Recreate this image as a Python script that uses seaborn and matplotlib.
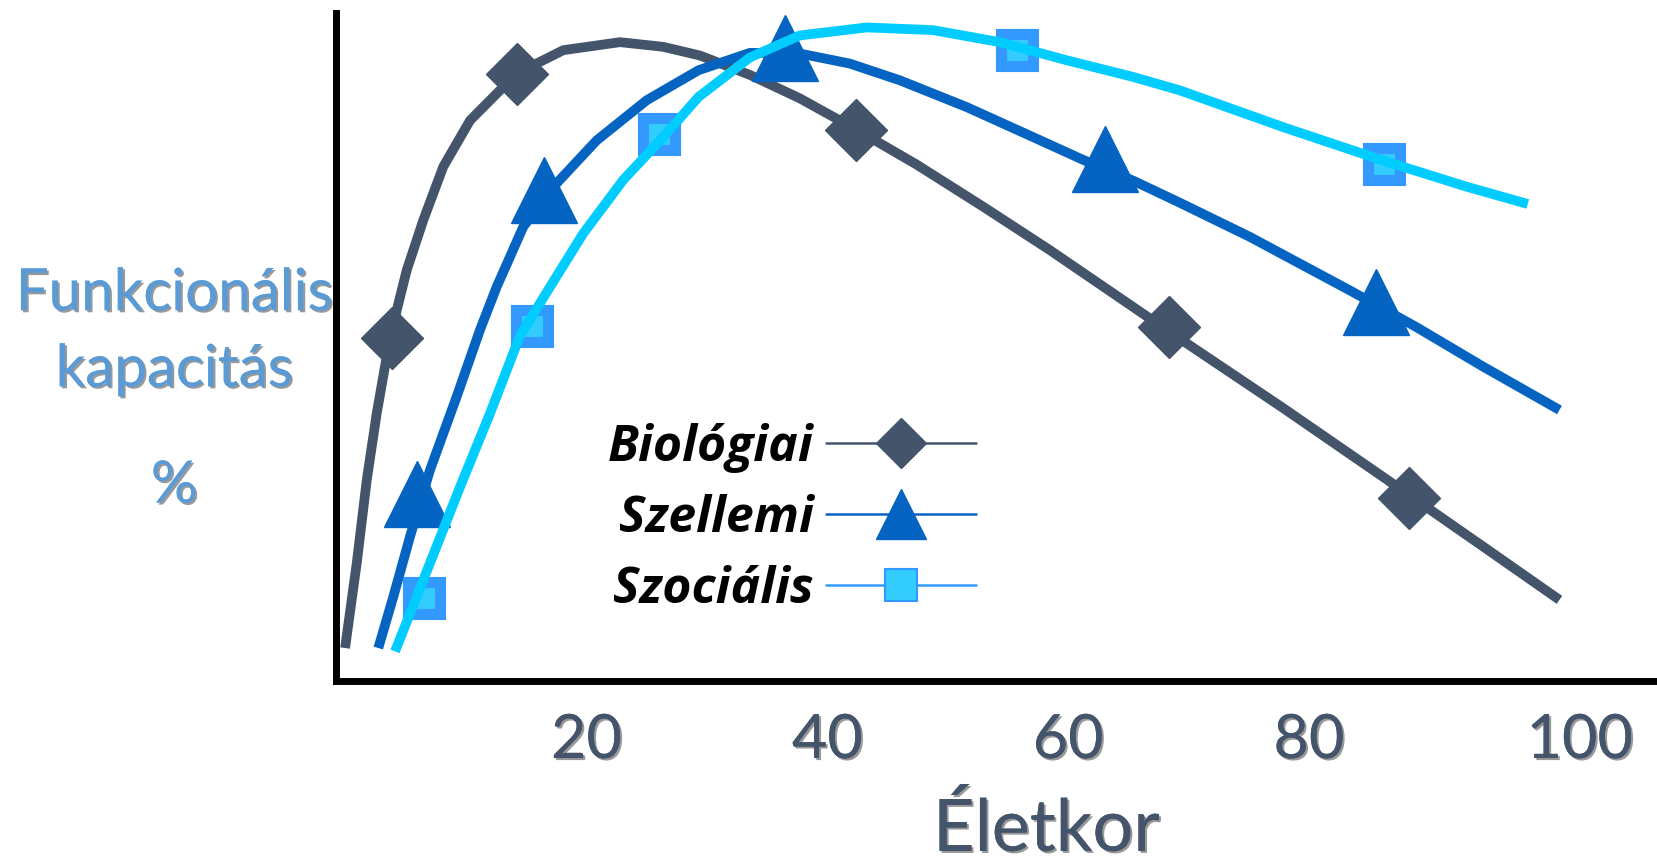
import matplotlib
matplotlib.use("Agg")
import matplotlib.pyplot as plt
import matplotlib.patheffects as pe
from matplotlib.lines import Line2D
from matplotlib.transforms import ScaledTranslation
import seaborn as sns

# görbék (a képről leolvasott pontok)
bio_x = [-0.05, 0.92, 1.75, 2.58, 3.41, 4.24, 5.07, 6.45, 8.11, 10.33, 13.09, 15.3, 18.07, 22.78,
         26.37, 29.42, 33.57, 37.71, 42.43, 47.41, 52.94, 58.48, 64.01, 68.16, 77.84, 86.14, 94.44, 100.8]
bio_y = [5.0, 17.7, 30.1, 40.1, 48.6, 55.5, 61.5, 69.0, 77.0, 83.9, 88.9, 91.9, 94.4, 95.6,
         94.9, 93.6, 90.7, 87.2, 82.5, 77.3, 71.0, 64.5, 57.7, 52.6, 40.9, 30.6, 20.2, 12.2]
sze_x = [2.71, 3.96, 5.35, 7.0, 9.22, 11.16, 12.54, 14.75, 17.52, 20.84, 24.99, 29.3, 33.57, 37.71,
         41.86, 46.01, 51.56, 57.09, 61.24, 65.39, 69.26, 75.07, 83.37, 88.91, 94.44, 100.8]
sze_y = [5.0, 12.7, 21.7, 31.6, 42.6, 52.6, 59.0, 68.0, 74.5, 80.9, 86.9, 91.4, 94.0, 93.9,
         92.4, 89.9, 85.9, 81.4, 78.0, 74.9, 71.6, 66.5, 58.5, 53.0, 47.1, 40.6]
szo_x = [4.1, 7.0, 9.5, 11.99, 14.5, 16.97, 19.73, 23.05, 26.37, 29.3, 33.56, 37.71, 43.26, 48.78,
         54.32, 59.86, 65.39, 69.26, 77.84, 86.14, 93.06, 98.17]
szo_y = [4.5, 17.7, 29.1, 40.1, 51.8, 59.0, 67.0, 75.0, 81.4, 87.4, 93.3, 96.6, 97.8, 97.4,
         95.6, 92.9, 90.4, 88.4, 82.9, 77.9, 74.0, 71.4]

# jelölők
bio_mx = [3.88, 14.25, 42.37, 68.35, 88.27]
bio_my = [51.3, 90.8, 82.5, 53.0, 27.4]
sze_mx = [5.9, 16.44, 36.47, 63.04, 85.59]
sze_my = [28.0, 73.5, 94.7, 78.2, 56.7]
szo_mx = [6.48, 15.45, 26.04, 55.73, 86.2]
szo_my = [12.5, 53.2, 81.9, 94.4, 77.4]

labels = ["Biológiai", "Szellemi", "Szociális"]
ticks = [20, 40, 60, 80, 100]

c_bio = "#44546A"
c_sze = "#0563C1"
c_szo = "#00CCFF"
c_sq_edge = "#3399FF"
c_sq_face = "#33CCFF"

sns.set_style("white")
plt.rcParams["font.family"] = ["Lato", "DejaVu Sans"]

fig = plt.figure(figsize=(16.57, 8.6), dpi=100)
ax = fig.add_axes([0.2028, 0.2076, 0.7972, 0.7776])

shadow = [pe.withSimplePatchShadow(offset=(1.5, -1.5), shadow_rgbFace="black", alpha=0.4), pe.Normal()]
line_kw = dict(lw=7, sort=False, solid_joinstyle="round", solid_capstyle="butt")

sns.lineplot(x=bio_x, y=bio_y, color=c_bio, ax=ax, zorder=2, **line_kw)
ax.plot(bio_mx, bio_my, ls="", marker="D", ms=32, color=c_bio, zorder=2)
sns.lineplot(x=sze_x, y=sze_y, color=c_sze, ax=ax, zorder=3, **line_kw)
ax.plot(sze_mx, sze_my, ls="", marker="^", ms=48, color=c_sze, zorder=3)
ax.plot(szo_mx, szo_my, ls="", marker="s", ms=23, mfc=c_sq_face, mec=c_sq_edge, mew=8, zorder=4)
sns.lineplot(x=szo_x, y=szo_y, color=c_szo, ax=ax, zorder=5, **line_kw)

ax.set_xlim(-0.8, 108.9)
ax.set_ylim(0, 100)
ax.set_yticks([])
ax.set_xticks(ticks)
ax.set_xticklabels([str(t) for t in ticks])
ax.tick_params(axis="x", length=0, pad=22, labelsize=44, labelcolor=c_bio)
for t in ax.get_xticklabels():
    t.set_path_effects(shadow)
last = ax.get_xticklabels()[-1]
last.set_transform(last.get_transform() + ScaledTranslation(0.3, 0, fig.dpi_scale_trans))

for s in ["top", "right"]:
    ax.spines[s].set_visible(False)
for s in ["left", "bottom"]:
    ax.spines[s].set_color("black")
    ax.spines[s].set_linewidth(5)

fig.text(990 / 1568, 1 - 785 / 814, "Életkor", ha="center", va="center",
         fontsize=52, color=c_bio, path_effects=shadow)
ylab_col = "#5B9BD5"
fig.text(165 / 1568, 1 - 278 / 814, "Funkcionális", ha="center", va="center",
         fontsize=42, color=ylab_col, path_effects=shadow)
fig.text(165 / 1568, 1 - 350 / 814, "kapacitás", ha="center", va="center",
         fontsize=42, color=ylab_col, path_effects=shadow)
fig.text(165 / 1568, 1 - 460 / 814, "%", ha="center", va="center",
         fontsize=42, color=ylab_col, path_effects=shadow)

handles = [
    Line2D([], [], color=c_bio, lw=1.8, marker="D", ms=25),
    Line2D([], [], color=c_sze, lw=1.8, marker="^", ms=36),
    Line2D([], [], color=c_sq_edge, lw=1.8, marker="s", ms=23, mfc=c_sq_face, mec=c_sq_edge, mew=1.5),
]
leg = ax.legend(handles, labels, loc="center", bbox_to_anchor=(0.345, 0.243),
                frameon=False, markerfirst=False, handlelength=3.0,
                handletextpad=0.25, labelspacing=0.42, borderpad=0,
                prop={"family": "Open Sans", "size": 36, "weight": "bold", "style": "italic"})
for t in leg.get_texts():
    t.set_color("black")

fig.savefig("out.png", dpi=100)
